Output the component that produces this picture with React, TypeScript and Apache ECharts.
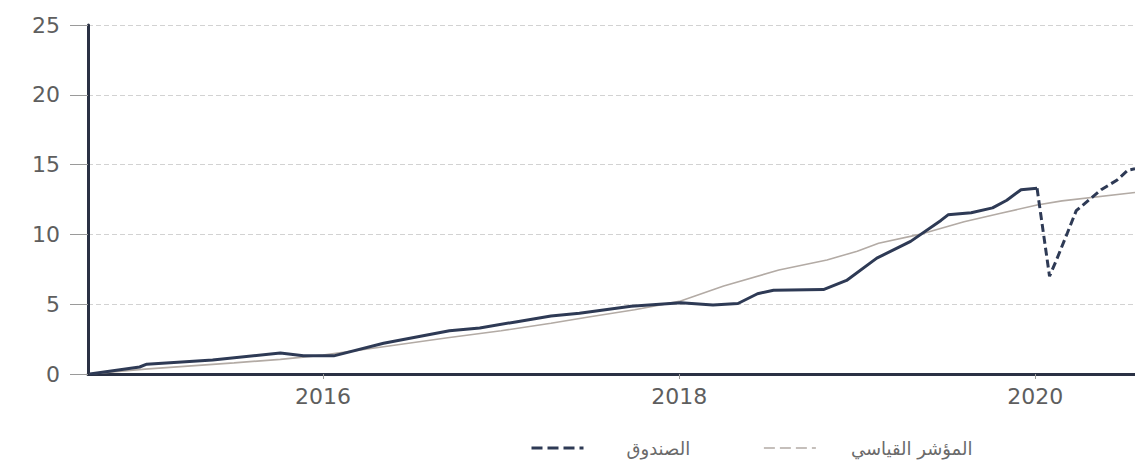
import React, { useEffect, useRef } from "react";
import * as echarts from "echarts";

// ---- data (decimal years) ----
const X_MIN = 2014.68;
const X_MAX = 2020.56;
const X_TICKS = [2016, 2018, 2020];
const Y_TICKS = [0, 5, 10, 15, 20, 25];

const FUND_NAME = "الصندوق";
const BENCH_NAME = "المؤشر القياسي";

const fundSolid: [number, number][] = [
  [2014.69, 0],
  [2014.97, 0.5],
  [2015.01, 0.7],
  [2015.38, 1.0],
  [2015.76, 1.5],
  [2015.89, 1.3],
  [2016.06, 1.3],
  [2016.34, 2.2],
  [2016.71, 3.1],
  [2016.88, 3.3],
  [2017.09, 3.75],
  [2017.28, 4.15],
  [2017.44, 4.35],
  [2017.73, 4.85],
  [2018.01, 5.1],
  [2018.19, 4.95],
  [2018.33, 5.05],
  [2018.44, 5.75],
  [2018.53, 6.0],
  [2018.81, 6.05],
  [2018.94, 6.7],
  [2019.11, 8.3],
  [2019.3, 9.5],
  [2019.47, 11.0],
  [2019.51, 11.4],
  [2019.64, 11.55],
  [2019.76, 11.9],
  [2019.84, 12.45],
  [2019.92, 13.2],
  [2020.01, 13.3],
];

const fundDashed: [number, number][] = [
  [2020.01, 13.3],
  [2020.08, 7.0],
  [2020.12, 8.2],
  [2020.18, 10.1],
  [2020.23, 11.7],
  [2020.37, 13.2],
  [2020.46, 13.9],
  [2020.52, 14.6],
  [2020.56, 14.7],
];

const benchmark: [number, number][] = [
  [2014.69, 0],
  [2015.0, 0.35],
  [2015.5, 0.8],
  [2015.76, 1.05],
  [2016.0, 1.35],
  [2016.34, 1.95],
  [2016.7, 2.6],
  [2017.0, 3.1],
  [2017.28, 3.63],
  [2017.5, 4.1],
  [2017.75, 4.6],
  [2018.0, 5.2],
  [2018.25, 6.3],
  [2018.56, 7.45],
  [2018.83, 8.16],
  [2019.0, 8.8],
  [2019.12, 9.36],
  [2019.35, 10.0],
  [2019.6, 10.9],
  [2019.8, 11.5],
  [2020.01, 12.1],
  [2020.15, 12.4],
  [2020.56, 13.0],
];

const FUND_COLOR = "#2e3a55";
const BENCH_COLOR = "#b3aba5";
const AXIS_COLOR = "#2a3144";
const LABEL_COLOR = "#5e5e5e";
const FONT = "DejaVu Sans";

export default function App() {
  const ref = useRef<HTMLDivElement>(null);

  useEffect(() => {
    if (!ref.current) return;
    const chart = echarts.init(ref.current, null, { renderer: "svg" });
    const legendText = { fontSize: 18, lineHeight: 20, color: "#6a6a6a", fontFamily: FONT };
    const option: any = {
      animation: false,
      backgroundColor: "#ffffff",
      grid: { left: 88, right: 0, top: 25, bottom: 87, containLabel: false },
      xAxis: {
        type: "value",
        min: X_MIN,
        max: X_MAX,
        axisLine: { show: true, onZero: false, lineStyle: { color: AXIS_COLOR, width: 3 } },
        axisTick: { show: true, customValues: X_TICKS, length: 5, lineStyle: { color: "#9a9a9a" } },
        axisLabel: {
          customValues: X_TICKS,
          formatter: (v: number) => String(Math.round(v)),
          margin: 11,
          fontSize: 22,
          color: LABEL_COLOR,
          fontFamily: FONT,
        },
        splitLine: { show: false },
      },
      yAxis: {
        type: "value",
        min: Y_TICKS[0],
        max: Y_TICKS[Y_TICKS.length - 1],
        interval: 5,
        axisLine: { show: true, lineStyle: { color: AXIS_COLOR, width: 3 } },
        axisTick: { show: true, length: 18, lineStyle: { color: "#9a9a9a" } },
        axisLabel: { margin: 28, fontSize: 22, color: LABEL_COLOR, fontFamily: FONT },
        splitLine: { show: true, lineStyle: { type: [5, 3], color: "#d2d2d2", width: 1 } },
      },
      legend: {
        left: 530,
        top: 438,
        padding: 0,
        itemWidth: 52,
        itemHeight: 14,
        itemGap: 73,
        itemStyle: { color: "rgba(0,0,0,0)", borderWidth: 0, opacity: 0 },
        textStyle: legendText,
        data: [
          {
            name: FUND_NAME,
            lineStyle: { type: [11, 5], width: 3, color: FUND_COLOR },
            textStyle: { ...legendText, padding: [0, 0, 0, 38] },
          },
          {
            name: BENCH_NAME,
            lineStyle: { type: [11, 5], width: 1.5, color: BENCH_COLOR },
            textStyle: { ...legendText, padding: [0, 0, 0, 30] },
          },
        ],
      },
      series: [
        {
          name: FUND_NAME,
          type: "line",
          data: fundDashed,
          symbol: "none",
          z: 4,
          lineStyle: { color: FUND_COLOR, width: 3, type: [8, 4] },
          itemStyle: { color: FUND_COLOR },
        },
        {
          name: FUND_NAME,
          type: "line",
          data: fundSolid,
          symbol: "none",
          z: 3,
          lineStyle: { color: FUND_COLOR, width: 3 },
          itemStyle: { color: FUND_COLOR },
        },
        {
          name: BENCH_NAME,
          type: "line",
          data: benchmark,
          symbol: "none",
          z: 2,
          lineStyle: { color: BENCH_COLOR, width: 1.6 },
          itemStyle: { color: BENCH_COLOR },
        },
      ],
    };
    chart.setOption(option);
    return () => chart.dispose();
  }, []);

  return (
    <div
      ref={ref}
      style={{ position: "fixed", left: 0, top: 0, width: 1135, height: 461, background: "#fff" }}
    />
  );
}
